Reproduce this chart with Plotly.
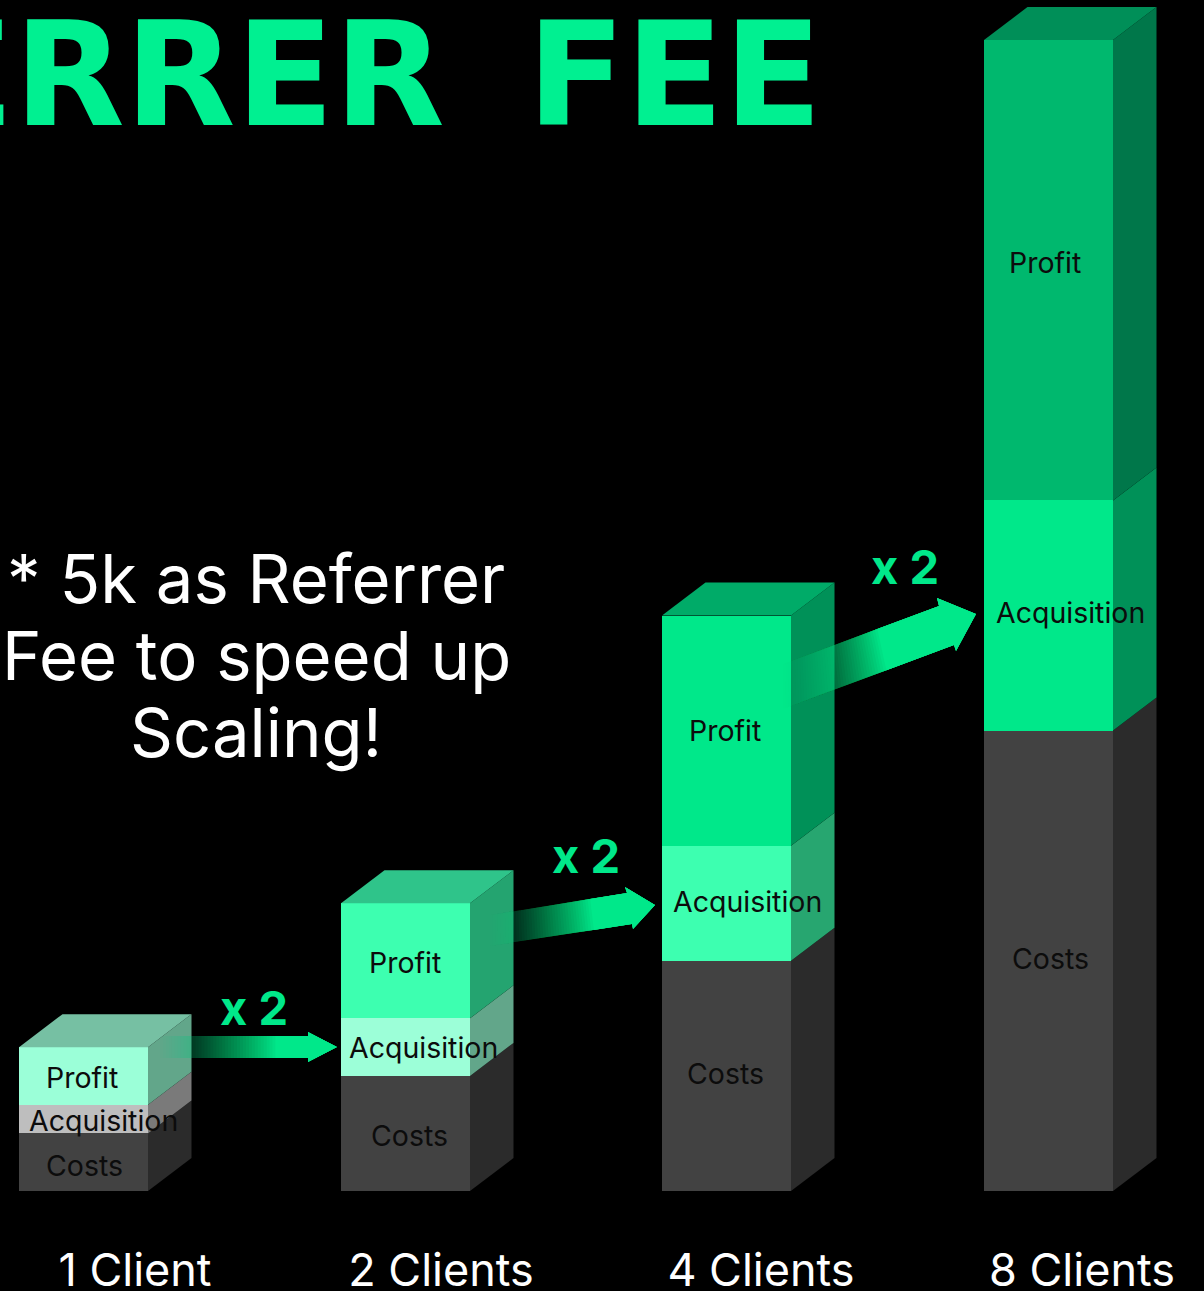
import plotly.graph_objects as go

# ---------- data ----------
clients = ["1 Client", "2 Clients", "4 Clients", "8 Clients"]
costs = [1, 2, 4, 8]
acquisition = [0.5, 1, 2, 4]
profit = [1, 2, 4, 8]
title_words = ["REFERRER", "FEE"]
note_lines = ["* 5k as Referrer", "Fee to speed up", "Scaling!"]
multiplier = "x 2"

# ---------- style ----------
bar_left = [19, 341, 662, 984]
bar_width = 129
tick_pos = [135, 441, 761, 1082]
W, H = 1204, 1291
BASE_PX = 1191
PX_PER_UNIT = 57.55
DX, DY_PX = 43.5, 33

cost_front = ["#424242"] * 4
cost_side = ["#2b2b2b"] * 4
acq_front = ["#bebebe", "#9cffd8", "#3dffb0", "#00e88a"]
acq_side = ["#7a7a7a", "#62a68a", "#27a670", "#009158"]
profit_front = ["#9bffd8", "#3dffb0", "#00e88a", "#00b86e"]
profit_side = ["#62a68a", "#24a470", "#009158", "#00774a"]
top_color = ["#76c0a3", "#2fc48a", "#00ab68", "#008f58"]
GREEN = "#00e88a"
TITLE_GREEN = "#00f091"
FONT = "Inter"


def uy(py):
    return (BASE_PX - py) / PX_PER_UNIT


DY = DY_PX / PX_PER_UNIT
centers = [l + bar_width / 2 for l in bar_left]
fig = go.Figure()

for name, vals, cols in [("Costs", costs, cost_front),
                         ("Acquisition", acquisition, acq_front),
                         ("Profit", profit, profit_front)]:
    fig.add_trace(go.Bar(x=centers, y=vals, width=bar_width, name=name,
                         marker=dict(color=cols, line=dict(width=0)),
                         hoverinfo="skip", showlegend=False))


def face(xs, ys, color):
    fig.add_trace(go.Scatter(x=xs, y=ys, mode="lines", fill="toself",
                             fillcolor=color, line=dict(width=0),
                             hoverinfo="skip", showlegend=False))


for i in range(4):
    r = bar_left[i] + bar_width
    lo = 0
    for vals, cols in [(costs, cost_side), (acquisition, acq_side), (profit, profit_side)]:
        hi = lo + vals[i]
        face([r, r + DX, r + DX, r, r], [lo, lo + DY, hi + DY, hi, lo], cols[i])
        lo = hi
    face([bar_left[i], r, r + DX, bar_left[i] + DX, bar_left[i]],
         [lo, lo, lo + DY, lo + DY, lo], top_color[i])

# segment labels, placed at segment mid-heights
label_x = dict(Costs=[84, 409, 725, 1050],
               Acquisition=[103, 423, 747, 1070],
               Profit=[82, 405, 725, 1045])
label_shift = dict(Costs=[-3, -2, 2, 2], Acquisition=[-1, 0, 2, 3], Profit=[-2, -2, 0, 8])
annotations = []
for i in range(4):
    mids = dict(Costs=costs[i] / 2,
                Acquisition=costs[i] + acquisition[i] / 2,
                Profit=costs[i] + acquisition[i] + profit[i] / 2)
    for k, m in mids.items():
        annotations.append(dict(x=label_x[k][i], y=m, yshift=label_shift[k][i], text=k,
                                showarrow=False, xanchor="center", yanchor="middle",
                                font=dict(family=FONT, size=28.5, color="#0c0c0c")))

# note text
for line, py in zip(note_lines, [578, 655, 732]):
    annotations.append(dict(x=256, y=uy(py), text=line, showarrow=False,
                            xanchor="center", yanchor="middle",
                            font=dict(family=FONT, size=67, color="#ffffff")))

# multipliers
for px, py in [(254, 1007), (586, 855), (905, 566)]:
    annotations.append(dict(x=px, y=uy(py), text=multiplier, showarrow=False,
                            xanchor="center", yanchor="middle",
                            font=dict(family=FONT, size=47, color=GREEN, weight=700)))

# title
annotations.append(dict(x=447, y=uy(75), text=title_words[0], showarrow=False, xanchor="right",
                        yanchor="middle",
                        font=dict(family="DejaVu Sans", size=144, color=TITLE_GREEN, weight=700)))
annotations.append(dict(x=525, y=uy(75), text=title_words[1], showarrow=False, xanchor="left",
                        yanchor="middle",
                        font=dict(family="DejaVu Sans", size=144, color=TITLE_GREEN, weight=700)))

# gradient arrows: tail top/bottom, neck top/bottom, head top/bottom, tip, full-opacity point
arrows = [
    dict(tt=(160, 1036), tb=(160, 1058), nt=(308, 1036), nb=(308, 1058),
         ht=(308, 1032), hb=(308, 1062), tip=(337, 1047), solid=0.8),
    dict(tt=(490, 915), tb=(490, 946), nt=(627, 893), nb=(632, 924),
         ht=(625, 887), hb=(633, 929), tip=(655, 905), solid=0.75),
    dict(tt=(783, 664), tb=(783, 709), nt=(939, 606), nb=(954, 645),
         ht=(937, 598), hb=(956, 651), tip=(976, 614), solid=0.62),
]


def path(points):
    return "M " + " L ".join(f"{x:.2f},{uy(y):.4f}" for x, y in points) + " Z"


def lerp(p, q, t):
    return (p[0] + (q[0] - p[0]) * t, p[1] + (q[1] - p[1]) * t)


shapes = []
N = 40
for a in arrows:
    # nested polygons, each reaching the neck: their alpha builds up smoothly, without seams
    prev = 0.0
    for k in range(N):
        t = a["solid"] * k / N
        target = (k + 1) / N
        step = 1 - (1 - target) / (1 - prev) if target < 1 else 1
        prev = target
        pts = [lerp(a["tt"], a["nt"], t), a["nt"], a["ht"], a["tip"], a["hb"], a["nb"],
               lerp(a["tb"], a["nb"], t)]
        shapes.append(dict(type="path", path=path(pts), xref="x", yref="y", layer="above",
                           fillcolor=f"rgba(0,232,138,{step:.4f})", line=dict(width=0)))

fig.update_layout(
    width=W, height=H, barmode="stack", bargap=0,
    paper_bgcolor="#000000", plot_bgcolor="#000000",
    margin=dict(l=0, r=0, t=0, b=H - BASE_PX, pad=0, autoexpand=False),
    annotations=annotations, shapes=shapes, showlegend=False,
    xaxis=dict(range=[0, W], showgrid=False, zeroline=False, showline=False, automargin=False,
               tickmode="array", tickvals=tick_pos, ticktext=clients,
               ticks="outside", ticklen=40, tickcolor="rgba(0,0,0,0)",
               tickfont=dict(family=FONT, size=45, color="#ffffff")),
    yaxis=dict(range=[0, BASE_PX / PX_PER_UNIT], visible=False, showgrid=False, zeroline=False,
               automargin=False),
)

fig.write_html("out.html", config=dict(displayModeBar=False),
               post_script="document.body.style.margin='0';document.body.style.background='#000';"
                           "document.body.style.overflow='hidden';")
